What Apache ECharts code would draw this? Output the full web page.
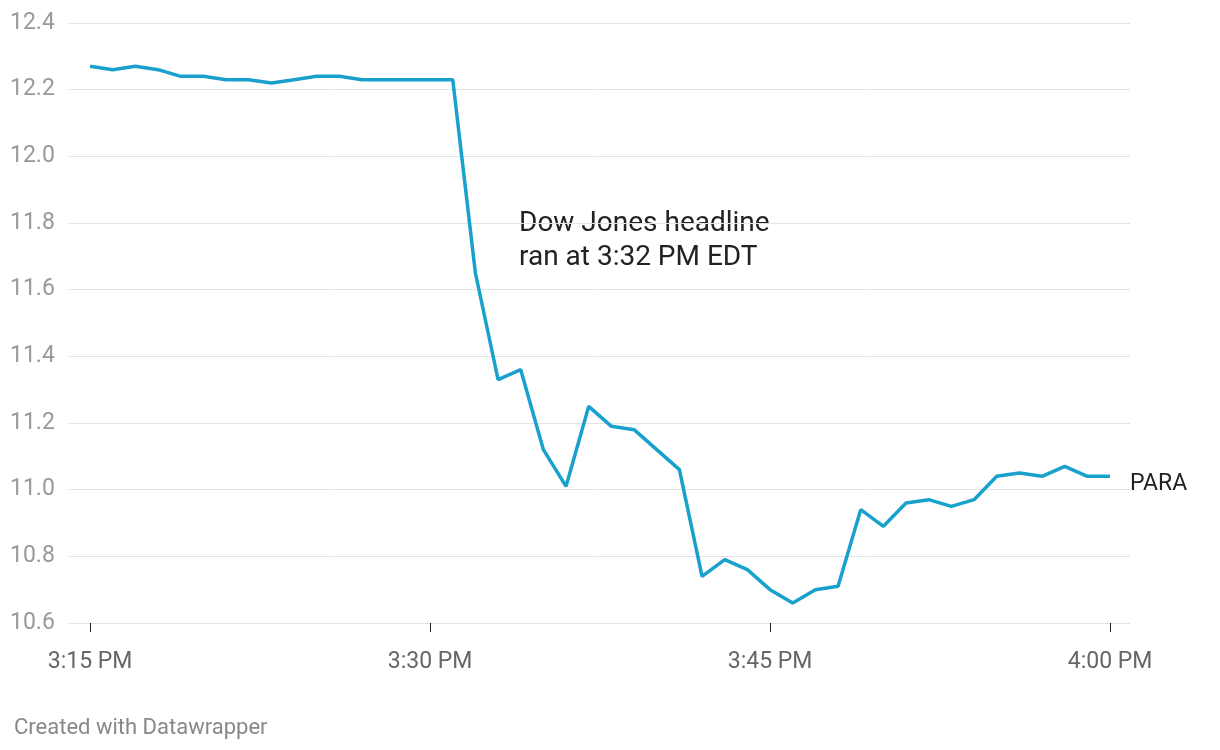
<!DOCTYPE html>
<html>
<head>
<meta charset="utf-8">
<script src="https://cdn.jsdelivr.net/npm/echarts@6/dist/echarts.min.js"></script>
<style>
html,body{margin:0;padding:0;background:#fff;}
#c{width:1220px;height:750px;}
</style>
</head>
<body>
<div id="c"></div>
<script>
// minutes after 3:15 PM
var minutes = [0,1,2,3,4,5,6,7,8,9,10,11,12,13,14,15,16,17,18,19,20,21,22,23,24,25,26,27,28,29,30,31,32,33,34,35,36,37,38,39,40,41,42,43,44,45];
var prices = [12.27,12.26,12.27,12.26,12.24,12.24,12.23,12.23,12.22,12.23,12.24,12.24,12.23,12.23,12.23,12.23,
  12.23,11.65,11.33,11.36,11.12,11.01,11.25,11.19,11.18,11.12,11.06,10.74,10.79,10.76,10.70,10.66,10.70,10.71,
  10.94,10.89,10.96,10.97,10.95,10.97,11.04,11.05,11.04,11.07,11.04,11.04];
var tickMinutes = [0,15,30,45];
var tickLabels = ['3:15 PM','3:30 PM','3:45 PM','4:00 PM'];
var seriesName = 'PARA';
var annotation = 'Dow Jones headline\nran at 3:32 PM EDT';
var credit = 'Created with Datawrapper';

var data = minutes.map(function(m,i){return [m, prices[i]];});
var chart = echarts.init(document.getElementById('c'));
var FONT = 'Roboto';
chart.setOption({
  animation:false,
  backgroundColor:'#fff',
  textStyle:{fontFamily:FONT},
  grid:{left:69,right:90,top:23,bottom:127,containLabel:false},
  xAxis:{
    type:'value', min:-0.93, max:45.88,
    axisLine:{show:false},
    splitLine:{show:false},
    axisTick:{show:true, customValues:tickMinutes, length:9, lineStyle:{color:'#222',width:1}},
    axisLabel:{customValues:tickMinutes, margin:28, fontSize:23, color:'#666', fontFamily:FONT,
      formatter:function(v){var i=tickMinutes.indexOf(Math.round(v)); return i>=0?tickLabels[i]:'';}}
  },
  yAxis:{
    type:'value', min:10.6, max:12.4, interval:0.2,
    axisLine:{show:false}, axisTick:{show:false},
    splitLine:{lineStyle:{color:'#e3e3e3',width:1}},
    axisLabel:{align:'left', margin:59, fontSize:23, color:'#999', fontFamily:FONT,
      formatter:function(v){return v.toFixed(1);}}
  },
  series:[{
    name:seriesName, type:'line', data:data, showSymbol:false, symbol:'none',
    lineStyle:{color:'#18a1cd', width:3.5}, itemStyle:{color:'#18a1cd'},
    endLabel:{show:true, formatter:seriesName, distance:20, fontSize:23, color:'#222', fontFamily:FONT, offset:[0,8]},
    silent:true
  }],
  graphic:[
    {type:'text', left:519, top:207, style:{text:annotation, font:'28px Roboto', fill:'#222', lineHeight:34}},
    {type:'text', left:14, top:717, style:{text:credit, font:'22px Roboto', fill:'#888'}}
  ]
});
</script>
</body>
</html>
